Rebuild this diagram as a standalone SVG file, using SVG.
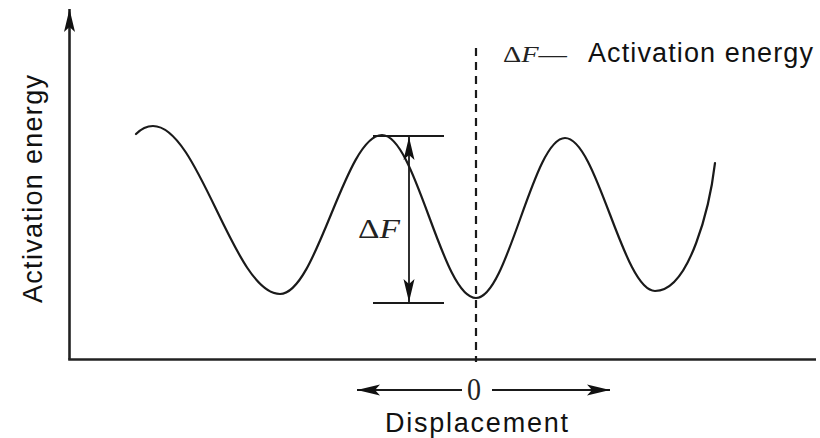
<svg xmlns="http://www.w3.org/2000/svg" width="820" height="438" viewBox="0 0 820 438">
  <defs>
    <style>
      .ax { stroke: #222; stroke-width: 2.6; fill: none; }
      .ln { stroke: #1a1a1a; stroke-width: 1.8; fill: none; }
      .curve { stroke: #1a1a1a; stroke-width: 2.2; fill: none; stroke-linejoin: round; stroke-linecap: round; }
      .dash { stroke: #1a1a1a; stroke-width: 2.2; fill: none; stroke-dasharray: 8 6; }
      .sans { font-family: "Liberation Sans", Arial, sans-serif; fill: #111; }
      .serif { font-family: "Liberation Serif", "Times New Roman", serif; fill: #222; }
    </style>
    <marker id="ah" viewBox="-24 -6 26 12" refX="0" refY="0" markerWidth="26" markerHeight="12" markerUnits="userSpaceOnUse" orient="auto-start-reverse">
      <path d="M0,0 L-23,-5.5 L-18,0 L-23,5.5 Z" fill="#111"/>
    </marker>
  </defs>

  <g id="axes">
    <line class="ax" x1="69.5" y1="359.5" x2="69.5" y2="9" marker-end="url(#ah)"/>
    <line class="ax" x1="68.2" y1="359.5" x2="816" y2="359.5"/>
  </g>

  <g id="energy-curve">
    <path class="curve" d="M136,134 C141,129 146,126 153,126 C199,126 234,294 280,294 C317,294 345,135 382,135 C416,135 442,298 476,298 C508,298 533,138 565,138 C597,138 623,291 655,291 C690,291 710,205 715,163"/>
  </g>

  <g id="connectors">
    <line class="dash" x1="476" y1="48" x2="476" y2="362"/>
    <line class="ln" x1="373" y1="136" x2="444" y2="136"/>
    <line class="ln" x1="373" y1="303" x2="444" y2="303"/>
    <line class="ln" x1="409" y1="137" x2="409" y2="302" marker-start="url(#ah)" marker-end="url(#ah)"/>
    <line class="ln" x1="462" y1="390" x2="357" y2="390" marker-end="url(#ah)"/>
    <line class="ln" x1="492" y1="390" x2="610" y2="390" marker-end="url(#ah)"/>
  </g>

  <g id="delta-f-label">
    <text class="serif" x="358" y="238" font-size="28" textLength="42" lengthAdjust="spacingAndGlyphs"><tspan>Δ</tspan><tspan font-style="italic">F</tspan></text>
  </g>

  <g id="legend">
    <text class="serif" x="503" y="62" font-size="23" textLength="64" lengthAdjust="spacingAndGlyphs"><tspan>Δ</tspan><tspan font-style="italic">F</tspan><tspan>—</tspan></text>
    <text class="sans" x="588" y="62" font-size="27" textLength="225">Activation energy</text>
  </g>

  <g id="zero-label">
    <text class="serif" x="467" y="400" font-size="31" textLength="14" lengthAdjust="spacingAndGlyphs">0</text>
  </g>

  <g id="x-label">
    <text class="sans" x="385" y="432" font-size="27" textLength="183">Displacement</text>
  </g>

  <g id="y-label">
    <text class="sans" x="0" y="0" font-size="27" text-anchor="middle" textLength="228" transform="translate(42,189) rotate(-90)">Activation energy</text>
  </g>
</svg>
